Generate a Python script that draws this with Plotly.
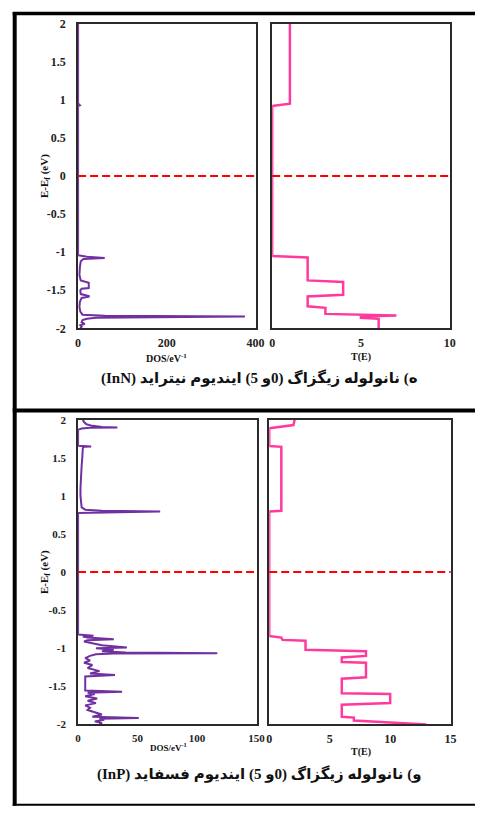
import plotly.graph_objects as go

W, H = 484, 813

# ---------------- data ----------------
# (a) InN : DOS
inn_dos_E = [2.0, 0.96, 0.94, 0.93, 0.92, -1.04, -1.06, -1.075, -1.09, -1.12, -1.2, -1.3,
             -1.37, -1.39, -1.4, -1.47, -1.48, -1.5, -1.55, -1.575, -1.585, -1.6, -1.65,
             -1.72, -1.78, -1.82, -1.835, -1.845, -1.852, -1.86, -1.875, -1.89, -1.92,
             -1.94, -1.96, -1.98, -2.0]
inn_dos_D = [0, 0, 2, 4, 0, 0, 20, 60, 12, 6, 4, 3,
             6, 24, 24, 24, 8, 5, 6, 24, 24, 8, 4,
             3, 5, 10, 60, 376, 45, 40, 20, 10, 8,
             15, 5, 8, 5]
# (a) InN : transmission
inn_T_E = [2.0, 0.95, 0.92, -1.05, -1.07, -1.37, -1.39, -1.56, -1.58, -1.71, -1.73,
           -1.81, -1.83, -1.845, -1.86, -1.875, -2.0]
inn_T = [1, 1, 0, 0, 2, 2, 4, 4, 2, 2, 3, 3, 7, 5, 5, 6, 6]

# (b) InP : DOS
inp_dos_E = [2.0, 1.97, 1.94, 1.92, 1.905, 1.9, 1.895, 1.885, 1.87, 1.66, 1.65, 1.645,
             1.63, 1.6, 1.5, 1.4, 1.3, 1.2, 1.1, 1.0, 0.9, 0.85, 0.82, 0.805, 0.795,
             0.79, 0.785, 0.775, -0.82, -0.835, -0.845, -0.86, -0.88, -0.895, -0.91,
             -0.93, -0.96, -0.99, -1.0, -1.02, -1.04, -1.055, -1.065, -1.07, -1.08,
             -1.1, -1.13, -1.16, -1.19, -1.22, -1.26, -1.3, -1.33, -1.35, -1.37, -1.42,
             -1.5, -1.555, -1.57, -1.585, -1.6, -1.63, -1.66, -1.69, -1.72, -1.75,
             -1.78, -1.81, -1.84, -1.87, -1.9, -1.915, -1.925, -1.94, -1.96, -1.98, -2.0]
inp_dos_D = [4, 5, 7, 12, 20, 33, 10, 3, 0, 0, 11, 5,
             4, 4, 3.5, 3, 2.5, 2.2, 2, 2, 2.5, 3, 6, 20, 69,
             40, 10, 0, 0, 13, 4, 8, 30, 8, 5,
             12, 20, 41, 15, 30, 20, 40, 117, 30, 15,
             10, 6, 10, 5, 12, 8, 18, 10, 31, 6, 6,
             6, 6, 37, 8, 14, 6, 16, 8, 15, 6,
             10, 8, 14, 20, 12, 51, 18, 22, 14, 20, 18]
# (b) InP : transmission
inp_T_E = [2.0, 1.93, 1.89, 1.655, 1.645, 0.805, 0.795, -0.84, -0.86, -0.89, -0.9, -1.02,
           -1.04, -1.1, -1.12, -1.18, -1.19, -1.38, -1.4, -1.59, -1.6, -1.72, -1.74,
           -1.9, -1.91, -1.95, -2.0]
inp_T = [2.1, 2.0, 0, 0, 1, 1, 0, 0, 1, 1.1, 3, 3,
         8, 8, 6, 6, 8, 8, 6, 6, 10, 10, 6,
         6, 7, 7, 13]

y_ticks = [2, 1.5, 1, 0.5, 0, -0.5, -1, -1.5, -2]
y_ticktext = ["2", "1.5", "1", "0.5", "0", "-0.5", "-1", "-1.5", "-2"]

caption_a = "\u202Bه) نانولوله زیگزاگ (0و 5) ایندیوم نیتراید (InN)\u202C"
caption_b = "\u202Bو) نانولوله زیگزاگ (0و 5) ایندیوم فسفاید (InP)\u202C"

# ---------------- layout helpers ----------------
def px(x):
    return x / W

def py(y):
    return 1 - y / H

DOS_COLOR = "#7030A0"
T_COLOR = "#FF3A9D"
SERIF = "Liberation Serif"

fig = go.Figure()

fig.add_trace(go.Scatter(x=inn_dos_D, y=inn_dos_E, mode="lines",
                         line=dict(color=DOS_COLOR, width=2), xaxis="x", yaxis="y",
                         showlegend=False))
fig.add_trace(go.Scatter(x=inn_T, y=inn_T_E, mode="lines",
                         line=dict(color=T_COLOR, width=2.5), xaxis="x2", yaxis="y2",
                         showlegend=False))
fig.add_trace(go.Scatter(x=inp_dos_D, y=inp_dos_E, mode="lines",
                         line=dict(color=DOS_COLOR, width=2), xaxis="x3", yaxis="y3",
                         showlegend=False))
fig.add_trace(go.Scatter(x=inp_T, y=inp_T_E, mode="lines",
                         line=dict(color=T_COLOR, width=2.5), xaxis="x4", yaxis="y4",
                         showlegend=False))

frame = dict(showline=True, mirror=True, linecolor="#2a2a2a", linewidth=2,
             showgrid=False, zeroline=False, ticks="")

def xax(domain, rng, ticks, anchor, size):
    return dict(domain=domain, range=rng, tickvals=ticks, anchor=anchor,
                tickfont=dict(family=SERIF, size=size, color="#222", weight="bold"),
                ticklabelstandoff=2, **frame)

def yax(domain, anchor, show, size):
    return dict(domain=domain, range=[-2, 2], tickvals=y_ticks, ticktext=y_ticktext,
                anchor=anchor, showticklabels=show,
                tickfont=dict(family=SERIF, size=size, color="#222", weight="bold"),
                ticklabelstandoff=8, **frame)

top_y = [py(327), py(17)]
bot_y = [py(730), py(420)]

fig.update_layout(
    width=W, height=H, margin=dict(l=0, r=0, t=0, b=0),
    paper_bgcolor="white", plot_bgcolor="white",
    font=dict(family=SERIF, size=12, color="#111"),
    xaxis=xax([px(77), px(259)], [0, 400], [0, 200, 400], "y", 12),
    yaxis=yax(top_y, "x", True, 12),
    xaxis2=xax([px(276), px(458)], [0, 10], [0, 5, 10], "y2", 12),
    yaxis2=yax(top_y, "x2", False, 12),
    xaxis3=xax([px(77), px(260)], [0, 150], [0, 50, 100, 150], "y3", 11),
    yaxis3=yax(bot_y, "x3", True, 11),
    xaxis4=xax([px(273), px(459)], [0, 15], [0, 5, 10, 15], "y4", 12),
    yaxis4=yax(bot_y, "x4", False, 12),
)

shapes = []
# zero (Fermi level) dashed lines
for xr, yr in [("x", "y"), ("x2", "y2"), ("x3", "y3"), ("x4", "y4")]:
    shapes.append(dict(type="line", xref=xr + " domain", yref=yr, x0=0, x1=1, y0=0, y1=0,
                       line=dict(color="#FF0000", width=2, dash="8px,4px"), layer="above"))
# panel borders
shapes += [
    dict(type="line", xref="paper", yref="paper", x0=px(10), x1=px(484), y0=py(6.7), y1=py(6.7),
         line=dict(color="black", width=3.5)),
    dict(type="line", xref="paper", yref="paper", x0=px(12), x1=px(12), y0=py(5), y1=py(812.7),
         line=dict(color="black", width=4)),
    dict(type="line", xref="paper", yref="paper", x0=px(10), x1=px(484), y0=py(410.5), y1=py(410.5),
         line=dict(color="black", width=4)),
    dict(type="line", xref="paper", yref="paper", x0=px(10), x1=px(484), y0=py(811.7), y1=py(811.7),
         line=dict(color="black", width=2)),
]
fig.update_layout(shapes=shapes)

def ann(text, x, y, size, angle=0, family=SERIF):
    return dict(text=text, x=px(x), y=py(y), xref="paper", yref="paper", showarrow=False,
                textangle=angle, xanchor="center", yanchor="middle",
                font=dict(family=family, size=size, color="#111", weight="bold"))

CAP_FONT = "Liberation Serif, DejaVu Sans"
annotations = [
    ann("E-E<sub>f</sub> (eV)", 43, 172, 11, -90),
    ann("E-E<sub>f</sub> (eV)", 43, 575, 11, -90),
    ann("DOS/eV<sup>-1</sup>", 168, 357, 10),
    ann("DOS/eV<sup>-1</sup>", 170, 753, 9),
    ann("T(E)", 367, 356, 10),
    ann("T(E)", 367, 758, 10),
    ann(caption_a, 263, 377, 15, family=CAP_FONT),
    ann(caption_b, 263, 780, 15, family=CAP_FONT),
]
fig.update_layout(annotations=annotations)

fig.write_html("out.html")
